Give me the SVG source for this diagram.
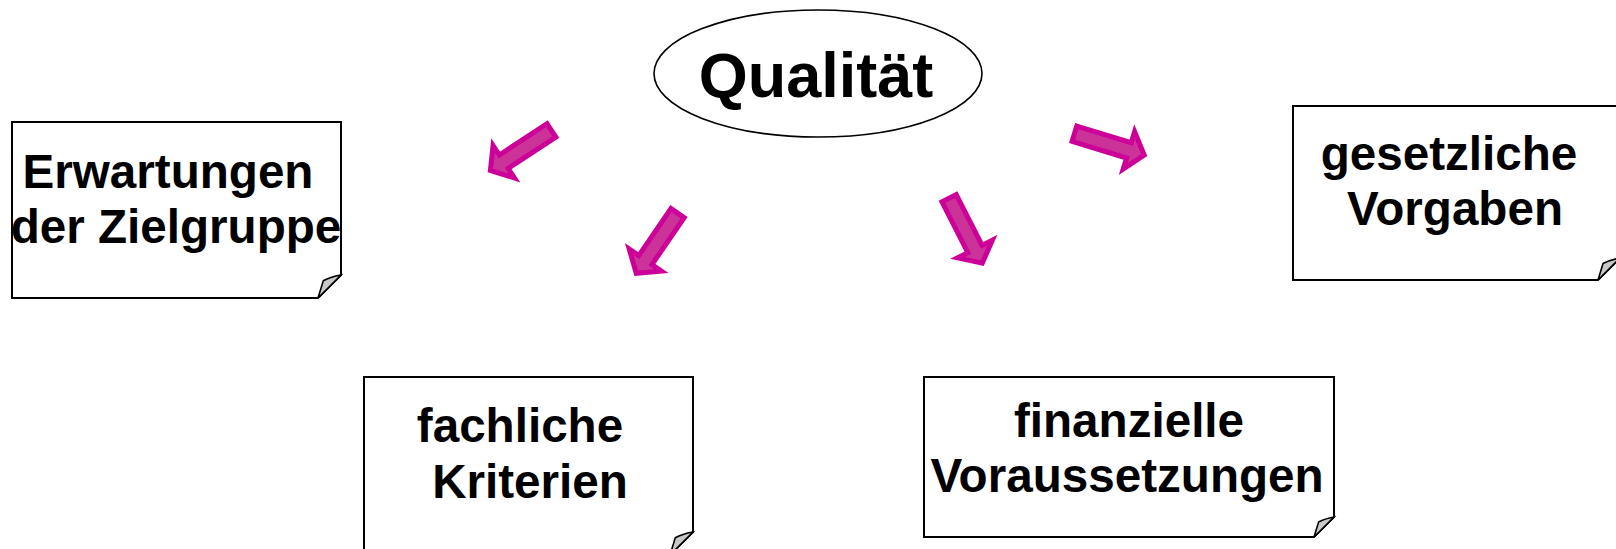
<svg xmlns="http://www.w3.org/2000/svg" width="1616" height="549" viewBox="0 0 1616 549">
<defs>
<style>
.note{fill:#ffffff;stroke:#000000;stroke-width:2;stroke-linejoin:miter}
.flap{fill:#c8c8c8;stroke:#000000;stroke-width:1.6;stroke-linejoin:miter}
.lbl{font-family:"Liberation Sans",Arial,sans-serif;font-weight:bold;font-size:47.6px;fill:#000000;text-anchor:middle}
.title{font-family:"Liberation Sans",Arial,sans-serif;font-weight:bold;font-size:63px;fill:#000000;text-anchor:middle}
.arrow{fill:#cc3399;stroke:#cc0099;stroke-width:5;stroke-linejoin:miter;stroke-miterlimit:10}
</style>
<path id="blk" d="M0,-8 L57,-8 L57,-19.5 L73,0 L57,19.5 L57,8 L0,8 Z"/>
</defs>
<rect width="1616" height="549" fill="#ffffff"/>

<g id="connectors">
<use href="#blk" class="arrow" transform="translate(551.4,130.4) rotate(146.7)"/>
<use href="#blk" class="arrow" transform="translate(1074.4,133.7) rotate(17)"/>
<use href="#blk" class="arrow" transform="translate(677.6,213.1) rotate(124.5)"/>
<use href="#blk" class="arrow" transform="translate(949.1,198.2) rotate(63)"/>
</g>

<g id="qualitaet">
<ellipse cx="818" cy="73.5" rx="164" ry="63.5" fill="#ffffff" stroke="#000000" stroke-width="1.6"/>
<text class="title" x="816" y="97">Qualität</text>
</g>

<g id="erwartungen">
<path class="note" d="M12,122 H341 V275 L318,298 H12 Z"/>
<path class="flap" d="M318,298 L323.3,280.7 Q330,277 341,275 Z"/>
<text class="lbl" x="168" y="188">Erwartungen</text>
<text class="lbl" x="176" y="243">der Zielgruppe</text>
</g>

<g id="fachliche">
<path class="note" d="M364,377 H693 V532 L670,555 H364 Z"/>
<path class="flap" d="M670,555 L675.3,537.7 Q682,534 693,532 Z"/>
<text class="lbl" x="520" y="442">fachliche</text>
<text class="lbl" x="530" y="498">Kriterien</text>
</g>

<g id="finanzielle">
<path class="note" d="M924,377 H1334 V517 L1314,537 H924 Z"/>
<path class="flap" d="M1314,537 L1318.6,522 Q1324.5,518.8 1334,517 Z"/>
<text class="lbl" x="1129" y="437">finanzielle</text>
<text class="lbl" x="1127" y="492">Voraussetzungen</text>
</g>

<g id="gesetzliche">
<path class="note" d="M1293,106 H1620 V258 L1598,280 H1293 Z"/>
<path class="flap" d="M1598,280 L1603,263.5 Q1609.5,260 1620,258 Z"/>
<text class="lbl" x="1449" y="170">gesetzliche</text>
<text class="lbl" x="1455" y="225">Vorgaben</text>
</g>
</svg>
